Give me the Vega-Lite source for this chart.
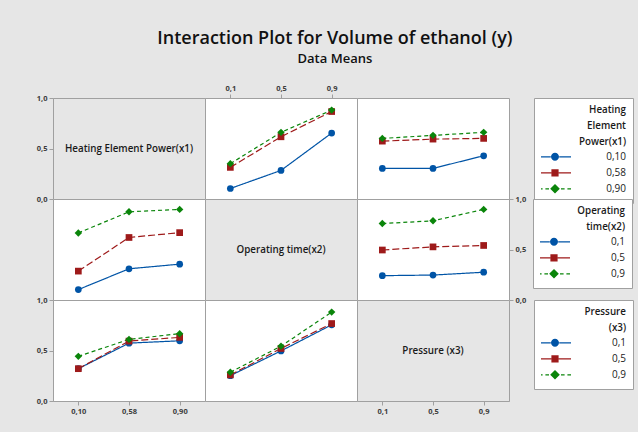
{
  "$schema": "https://vega.github.io/schema/vega-lite/v6.json",
  "background": "#e6e6e6",
  "padding": {"left": 35, "top": 29, "right": 4, "bottom": 22},
  "title": {
    "text": "Interaction Plot for Volume of ethanol (y)",
    "subtitle": "Data Means",
    "fontSize": 18,
    "fontWeight": 600,
    "subtitleFontSize": 13,
    "subtitleFontWeight": 600,
    "color": "#111111",
    "subtitleColor": "#111111",
    "anchor": "middle",
    "frame": "bounds",
    "offset": 18,
    "subtitlePadding": 5
  },
  "datasets": {
    "means": [
      {"p": "r1c2", "x": "0,1", "s": "0,10", "m": 0.104},
      {"p": "r1c2", "x": "0,5", "s": "0,10", "m": 0.283},
      {"p": "r1c2", "x": "0,9", "s": "0,10", "m": 0.653},
      {"p": "r1c2", "x": "0,1", "s": "0,58", "m": 0.313},
      {"p": "r1c2", "x": "0,5", "s": "0,58", "m": 0.616},
      {"p": "r1c2", "x": "0,9", "s": "0,58", "m": 0.866},
      {"p": "r1c2", "x": "0,1", "s": "0,90", "m": 0.350},
      {"p": "r1c2", "x": "0,5", "s": "0,90", "m": 0.660},
      {"p": "r1c2", "x": "0,9", "s": "0,90", "m": 0.880},
      {"p": "r1c3", "x": "0,1", "s": "0,10", "m": 0.303},
      {"p": "r1c3", "x": "0,5", "s": "0,10", "m": 0.303},
      {"p": "r1c3", "x": "0,9", "s": "0,10", "m": 0.428},
      {"p": "r1c3", "x": "0,1", "s": "0,58", "m": 0.573},
      {"p": "r1c3", "x": "0,5", "s": "0,58", "m": 0.593},
      {"p": "r1c3", "x": "0,9", "s": "0,58", "m": 0.600},
      {"p": "r1c3", "x": "0,1", "s": "0,90", "m": 0.600},
      {"p": "r1c3", "x": "0,5", "s": "0,90", "m": 0.630},
      {"p": "r1c3", "x": "0,9", "s": "0,90", "m": 0.660},
      {"p": "r2c1", "x": "0,10", "s": "0,1", "m": 0.103},
      {"p": "r2c1", "x": "0,58", "s": "0,1", "m": 0.309},
      {"p": "r2c1", "x": "0,90", "s": "0,1", "m": 0.355},
      {"p": "r2c1", "x": "0,10", "s": "0,5", "m": 0.286},
      {"p": "r2c1", "x": "0,58", "s": "0,5", "m": 0.619},
      {"p": "r2c1", "x": "0,90", "s": "0,5", "m": 0.667},
      {"p": "r2c1", "x": "0,10", "s": "0,9", "m": 0.664},
      {"p": "r2c1", "x": "0,58", "s": "0,9", "m": 0.873},
      {"p": "r2c1", "x": "0,90", "s": "0,9", "m": 0.897},
      {"p": "r2c3", "x": "0,1", "s": "0,1", "m": 0.241},
      {"p": "r2c3", "x": "0,5", "s": "0,1", "m": 0.247},
      {"p": "r2c3", "x": "0,9", "s": "0,1", "m": 0.275},
      {"p": "r2c3", "x": "0,1", "s": "0,5", "m": 0.495},
      {"p": "r2c3", "x": "0,5", "s": "0,5", "m": 0.526},
      {"p": "r2c3", "x": "0,9", "s": "0,5", "m": 0.540},
      {"p": "r2c3", "x": "0,1", "s": "0,9", "m": 0.757},
      {"p": "r2c3", "x": "0,5", "s": "0,9", "m": 0.784},
      {"p": "r2c3", "x": "0,9", "s": "0,9", "m": 0.897},
      {"p": "r3c1", "x": "0,10", "s": "0,1", "m": 0.320},
      {"p": "r3c1", "x": "0,58", "s": "0,1", "m": 0.573},
      {"p": "r3c1", "x": "0,90", "s": "0,1", "m": 0.596},
      {"p": "r3c1", "x": "0,10", "s": "0,5", "m": 0.320},
      {"p": "r3c1", "x": "0,58", "s": "0,5", "m": 0.593},
      {"p": "r3c1", "x": "0,90", "s": "0,5", "m": 0.630},
      {"p": "r3c1", "x": "0,10", "s": "0,9", "m": 0.442},
      {"p": "r3c1", "x": "0,58", "s": "0,9", "m": 0.610},
      {"p": "r3c1", "x": "0,90", "s": "0,9", "m": 0.667},
      {"p": "r3c2", "x": "0,1", "s": "0,1", "m": 0.251},
      {"p": "r3c2", "x": "0,5", "s": "0,1", "m": 0.496},
      {"p": "r3c2", "x": "0,9", "s": "0,1", "m": 0.754},
      {"p": "r3c2", "x": "0,1", "s": "0,5", "m": 0.258},
      {"p": "r3c2", "x": "0,5", "s": "0,5", "m": 0.520},
      {"p": "r3c2", "x": "0,9", "s": "0,5", "m": 0.767},
      {"p": "r3c2", "x": "0,1", "s": "0,9", "m": 0.285},
      {"p": "r3c2", "x": "0,5", "s": "0,9", "m": 0.543},
      {"p": "r3c2", "x": "0,9", "s": "0,9", "m": 0.880}
    ],
    "labels": [
      {"d": "d1", "label": "Heating Element Power(x1)"},
      {"d": "d2", "label": "Operating time(x2)"},
      {"d": "d3", "label": "Pressure (x3)"}
    ]
  },
  "columns": 3,
  "spacing": 0,
  "bounds": "flush",
  "resolve": {
    "scale": {"color": "independent", "strokeDash": "independent"},
    "legend": {"color": "independent", "strokeDash": "independent"}
  },
  "concat": [
    {
      "width": 152, "height": 101,
      "view": {"fill": "#e6e6e6", "stroke": "#a0a0a0"},
      "data": {"name": "labels"},
      "transform": [{"filter": "datum.d == 'd1'"}],
      "mark": {"type": "text", "fontSize": 9.8, "fontWeight": 600, "color": "#1a1a1a"},
      "encoding": {"text": {"field": "label", "type": "nominal"}}
    },
    {
      "width": 152, "height": 101,
      "data": {"name": "means"},
      "transform": [{"filter": "datum.p == 'r1c2'"}],
      "encoding": {
        "x": {"field": "x", "type": "ordinal", "scale": {"type": "point", "padding": 0.5, "domain": ["0,1", "0,5", "0,9"]}, "axis": {"orient": "top", "title": null, "labelAngle": 0}},
        "y": {"field": "m", "type": "quantitative", "scale": {"domain": [0, 1], "nice": false, "zero": false}, "axis": {"orient": "left", "offset": 152, "title": null, "values": [0, 0.5, 1], "labelExpr": "replace(format(datum.value, '.1f'), '.', ',')"}},
        "color": {"field": "s", "type": "nominal", "scale": {"domain": ["0,10", "0,58", "0,90"], "range": ["#0054a6", "#9e1a1a", "#0a850a"]}, "legend": null}
      },
      "layer": [
        {"mark": {"type": "line", "strokeWidth": 1.2}, "encoding": {"strokeDash": {"field": "s", "type": "nominal", "scale": {"domain": ["0,10", "0,58", "0,90"], "range": [[1, 0], [7, 3], [4, 3]]}, "legend": null}}},
        {"transform": [{"filter": "indexof(['0,10', '0,1'], datum.s) >= 0"}], "mark": {"type": "point", "shape": "circle", "filled": true, "size": 45, "opacity": 1}},
        {"transform": [{"filter": "indexof(['0,58', '0,5'], datum.s) >= 0"}], "mark": {"type": "point", "shape": "square", "filled": true, "size": 45, "opacity": 1}},
        {"transform": [{"filter": "indexof(['0,90', '0,9'], datum.s) >= 0"}], "mark": {"type": "point", "shape": "diamond", "filled": true, "size": 55, "opacity": 1}}
      ]
    },
    {
      "width": 152, "height": 101,
      "data": {"name": "means"},
      "transform": [{"filter": "datum.p == 'r1c3'"}],
      "encoding": {
        "x": {"field": "x", "type": "ordinal", "scale": {"type": "point", "padding": 0.5, "domain": ["0,1", "0,5", "0,9"]}, "axis": null},
        "y": {"field": "m", "type": "quantitative", "scale": {"domain": [0, 1], "nice": false, "zero": false}, "axis": null},
        "color": {"field": "s", "type": "nominal", "scale": {"domain": ["0,10", "0,58", "0,90"], "range": ["#0054a6", "#9e1a1a", "#0a850a"]},
          "legend": {"title": ["Heating", "Element", "Power(x1)"], "offset": 25,
            "encode": {"symbols": {"update": {
              "shape": {"signal": "datum.index == 0 ? 'M-4,-0.15H-1.05V0.15H-4ZM1.05,-0.15H4V0.15H1.05ZM1,0A1,1,0,1,1,-1,0A1,1,0,1,1,1,0Z' : datum.index == 1 ? 'M-4,-0.15H-0.92V0.15H-4ZM0.92,-0.15H4V0.15H0.92ZM-0.9,-0.9H0.9V0.9H-0.9Z' : 'M-4,-0.15H-3.1V0.15H-4ZM-2.4,-0.15H-1.5V0.15H-2.4ZM1.5,-0.15H2.4V0.15H1.5ZM3.1,-0.15H4V0.15H3.1ZM0,-1.2L1.2,0L0,1.2L-1.2,0Z'"},
              "stroke": {"value": "transparent"},
              "strokeWidth": {"value": 0},
              "size": {"value": 64},
              "opacity": {"value": 1}
            }}}}}
      },
      "layer": [
        {"mark": {"type": "line", "strokeWidth": 1.2}, "encoding": {"strokeDash": {"field": "s", "type": "nominal", "scale": {"domain": ["0,10", "0,58", "0,90"], "range": [[1, 0], [7, 3], [4, 3]]}, "legend": null}}},
        {"transform": [{"filter": "indexof(['0,10', '0,1'], datum.s) >= 0"}], "mark": {"type": "point", "shape": "circle", "filled": true, "size": 45, "opacity": 1}},
        {"transform": [{"filter": "indexof(['0,58', '0,5'], datum.s) >= 0"}], "mark": {"type": "point", "shape": "square", "filled": true, "size": 45, "opacity": 1}},
        {"transform": [{"filter": "indexof(['0,90', '0,9'], datum.s) >= 0"}], "mark": {"type": "point", "shape": "diamond", "filled": true, "size": 55, "opacity": 1}}
      ]
    },
    {
      "width": 152, "height": 101,
      "data": {"name": "means"},
      "transform": [{"filter": "datum.p == 'r2c1'"}],
      "encoding": {
        "x": {"field": "x", "type": "ordinal", "scale": {"type": "point", "padding": 0.5, "domain": ["0,10", "0,58", "0,90"]}, "axis": null},
        "y": {"field": "m", "type": "quantitative", "scale": {"domain": [0, 1], "nice": false, "zero": false}, "axis": null},
        "color": {"field": "s", "type": "nominal", "scale": {"domain": ["0,1", "0,5", "0,9"], "range": ["#0054a6", "#9e1a1a", "#0a850a"]}, "legend": null}
      },
      "layer": [
        {"mark": {"type": "line", "strokeWidth": 1.2}, "encoding": {"strokeDash": {"field": "s", "type": "nominal", "scale": {"domain": ["0,1", "0,5", "0,9"], "range": [[1, 0], [7, 3], [4, 3]]}, "legend": null}}},
        {"transform": [{"filter": "indexof(['0,10', '0,1'], datum.s) >= 0"}], "mark": {"type": "point", "shape": "circle", "filled": true, "size": 45, "opacity": 1}},
        {"transform": [{"filter": "indexof(['0,58', '0,5'], datum.s) >= 0"}], "mark": {"type": "point", "shape": "square", "filled": true, "size": 45, "opacity": 1}},
        {"transform": [{"filter": "indexof(['0,90', '0,9'], datum.s) >= 0"}], "mark": {"type": "point", "shape": "diamond", "filled": true, "size": 55, "opacity": 1}}
      ]
    },
    {
      "width": 152, "height": 101,
      "view": {"fill": "#e6e6e6", "stroke": "#a0a0a0"},
      "data": {"name": "labels"},
      "transform": [{"filter": "datum.d == 'd2'"}],
      "mark": {"type": "text", "fontSize": 9.8, "fontWeight": 600, "color": "#1a1a1a"},
      "encoding": {"text": {"field": "label", "type": "nominal"}}
    },
    {
      "width": 152, "height": 101,
      "data": {"name": "means"},
      "transform": [{"filter": "datum.p == 'r2c3'"}],
      "encoding": {
        "x": {"field": "x", "type": "ordinal", "scale": {"type": "point", "padding": 0.5, "domain": ["0,1", "0,5", "0,9"]}, "axis": {"orient": "bottom", "offset": 101, "title": null, "labelAngle": 0}},
        "y": {"field": "m", "type": "quantitative", "scale": {"domain": [0, 1], "nice": false, "zero": false}, "axis": {"orient": "right", "title": null, "values": [0, 0.5, 1], "labelExpr": "replace(format(datum.value, '.1f'), '.', ',')"}},
        "color": {"field": "s", "type": "nominal", "scale": {"domain": ["0,1", "0,5", "0,9"], "range": ["#0054a6", "#9e1a1a", "#0a850a"]},
          "legend": {"title": ["Operating", "time(x2)"], "offset": 7,
            "encode": {"symbols": {"update": {
              "shape": {"signal": "datum.index == 0 ? 'M-4,-0.15H-1.05V0.15H-4ZM1.05,-0.15H4V0.15H1.05ZM1,0A1,1,0,1,1,-1,0A1,1,0,1,1,1,0Z' : datum.index == 1 ? 'M-4,-0.15H-0.92V0.15H-4ZM0.92,-0.15H4V0.15H0.92ZM-0.9,-0.9H0.9V0.9H-0.9Z' : 'M-4,-0.15H-3.1V0.15H-4ZM-2.4,-0.15H-1.5V0.15H-2.4ZM1.5,-0.15H2.4V0.15H1.5ZM3.1,-0.15H4V0.15H3.1ZM0,-1.2L1.2,0L0,1.2L-1.2,0Z'"},
              "stroke": {"value": "transparent"},
              "strokeWidth": {"value": 0},
              "size": {"value": 64},
              "opacity": {"value": 1}
            }}}}}
      },
      "layer": [
        {"mark": {"type": "line", "strokeWidth": 1.2}, "encoding": {"strokeDash": {"field": "s", "type": "nominal", "scale": {"domain": ["0,1", "0,5", "0,9"], "range": [[1, 0], [7, 3], [4, 3]]}, "legend": null}}},
        {"transform": [{"filter": "indexof(['0,10', '0,1'], datum.s) >= 0"}], "mark": {"type": "point", "shape": "circle", "filled": true, "size": 45, "opacity": 1}},
        {"transform": [{"filter": "indexof(['0,58', '0,5'], datum.s) >= 0"}], "mark": {"type": "point", "shape": "square", "filled": true, "size": 45, "opacity": 1}},
        {"transform": [{"filter": "indexof(['0,90', '0,9'], datum.s) >= 0"}], "mark": {"type": "point", "shape": "diamond", "filled": true, "size": 55, "opacity": 1}}
      ]
    },
    {
      "width": 152, "height": 101,
      "data": {"name": "means"},
      "transform": [{"filter": "datum.p == 'r3c1'"}],
      "encoding": {
        "x": {"field": "x", "type": "ordinal", "scale": {"type": "point", "padding": 0.5, "domain": ["0,10", "0,58", "0,90"]}, "axis": {"orient": "bottom", "title": null, "labelAngle": 0}},
        "y": {"field": "m", "type": "quantitative", "scale": {"domain": [0, 1], "nice": false, "zero": false}, "axis": {"orient": "left", "title": null, "values": [0, 0.5, 1], "labelExpr": "replace(format(datum.value, '.1f'), '.', ',')"}},
        "color": {"field": "s", "type": "nominal", "scale": {"domain": ["0,1", "0,5", "0,9"], "range": ["#0054a6", "#9e1a1a", "#0a850a"]}, "legend": null}
      },
      "layer": [
        {"mark": {"type": "line", "strokeWidth": 1.2}, "encoding": {"strokeDash": {"field": "s", "type": "nominal", "scale": {"domain": ["0,1", "0,5", "0,9"], "range": [[1, 0], [7, 3], [4, 3]]}, "legend": null}}},
        {"transform": [{"filter": "indexof(['0,10', '0,1'], datum.s) >= 0"}], "mark": {"type": "point", "shape": "circle", "filled": true, "size": 45, "opacity": 1}},
        {"transform": [{"filter": "indexof(['0,58', '0,5'], datum.s) >= 0"}], "mark": {"type": "point", "shape": "square", "filled": true, "size": 45, "opacity": 1}},
        {"transform": [{"filter": "indexof(['0,90', '0,9'], datum.s) >= 0"}], "mark": {"type": "point", "shape": "diamond", "filled": true, "size": 55, "opacity": 1}}
      ]
    },
    {
      "width": 152, "height": 101,
      "data": {"name": "means"},
      "transform": [{"filter": "datum.p == 'r3c2'"}],
      "encoding": {
        "x": {"field": "x", "type": "ordinal", "scale": {"type": "point", "padding": 0.5, "domain": ["0,1", "0,5", "0,9"]}, "axis": null},
        "y": {"field": "m", "type": "quantitative", "scale": {"domain": [0, 1], "nice": false, "zero": false}, "axis": null},
        "color": {"field": "s", "type": "nominal", "scale": {"domain": ["0,1", "0,5", "0,9"], "range": ["#0054a6", "#9e1a1a", "#0a850a"]},
          "legend": {"title": ["Pressure", "(x3)"], "offset": 177,
            "encode": {"symbols": {"update": {
              "shape": {"signal": "datum.index == 0 ? 'M-4,-0.15H-1.05V0.15H-4ZM1.05,-0.15H4V0.15H1.05ZM1,0A1,1,0,1,1,-1,0A1,1,0,1,1,1,0Z' : datum.index == 1 ? 'M-4,-0.15H-0.92V0.15H-4ZM0.92,-0.15H4V0.15H0.92ZM-0.9,-0.9H0.9V0.9H-0.9Z' : 'M-4,-0.15H-3.1V0.15H-4ZM-2.4,-0.15H-1.5V0.15H-2.4ZM1.5,-0.15H2.4V0.15H1.5ZM3.1,-0.15H4V0.15H3.1ZM0,-1.2L1.2,0L0,1.2L-1.2,0Z'"},
              "stroke": {"value": "transparent"},
              "strokeWidth": {"value": 0},
              "size": {"value": 64},
              "opacity": {"value": 1}
            }}}}}
      },
      "layer": [
        {"mark": {"type": "line", "strokeWidth": 1.2}, "encoding": {"strokeDash": {"field": "s", "type": "nominal", "scale": {"domain": ["0,1", "0,5", "0,9"], "range": [[1, 0], [7, 3], [4, 3]]}, "legend": null}}},
        {"transform": [{"filter": "indexof(['0,10', '0,1'], datum.s) >= 0"}], "mark": {"type": "point", "shape": "circle", "filled": true, "size": 45, "opacity": 1}},
        {"transform": [{"filter": "indexof(['0,58', '0,5'], datum.s) >= 0"}], "mark": {"type": "point", "shape": "square", "filled": true, "size": 45, "opacity": 1}},
        {"transform": [{"filter": "indexof(['0,90', '0,9'], datum.s) >= 0"}], "mark": {"type": "point", "shape": "diamond", "filled": true, "size": 55, "opacity": 1}}
      ]
    },
    {
      "width": 152, "height": 101,
      "view": {"fill": "#e6e6e6", "stroke": "#a0a0a0"},
      "data": {"name": "labels"},
      "transform": [{"filter": "datum.d == 'd3'"}],
      "mark": {"type": "text", "fontSize": 9.8, "fontWeight": 600, "color": "#1a1a1a"},
      "encoding": {"text": {"field": "label", "type": "nominal"}}
    }
  ],
  "config": {
    "font": "Open Sans",
    "view": {"fill": "white", "stroke": "#a0a0a0", "strokeWidth": 1},
    "axis": {
      "labelFont": "Open Sans",
      "labelFontSize": 7.5,
      "labelFontWeight": "bold",
      "labelColor": "#3c3c3c",
      "domainColor": "#a0a0a0",
      "tickColor": "#a0a0a0",
      "tickSize": 4,
      "labelPadding": 2,
      "grid": false,
      "labelOverlap": false,
      "labelFlush": false
    },
    "legend": {
      "orient": "right",
      "padding": 7,
      "strokeColor": "#a0a0a0",
      "fillColor": "white",
      "cornerRadius": 0,
      "titleFont": "Open Sans",
      "titleFontSize": 9.8,
      "titleFontWeight": 600,
      "titleColor": "#1a1a1a",
      "titleAlign": "right",
      "titleAnchor": "end",
      "titleLineHeight": 16,
      "titlePadding": 3,
      "titleLimit": 200,
      "labelFont": "Open Sans",
      "labelFontSize": 10,
      "labelColor": "#1a1a1a",
      "labelAlign": "right",
      "labelOffset": 66,
      "symbolSize": 64,
      "symbolStrokeWidth": 0,
      "symbolOffset": 9,
      "clipHeight": 14,
      "rowPadding": 2
    }
  }
}
